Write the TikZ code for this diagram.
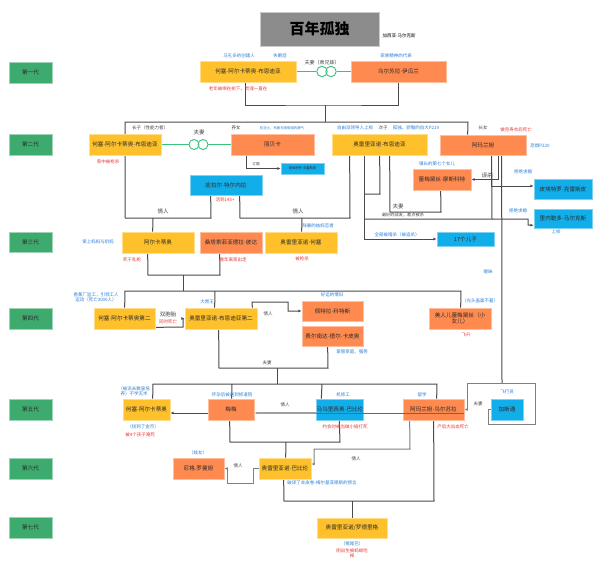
\documentclass[tikz,border=0pt]{standalone}
\usepackage{fontspec}
\setmainfont{Noto Sans CJK SC}
\newfontfamily\latinf{Liberation Sans}
\newcommand\mdot{{\latinf ·}}
\usetikzlibrary{arrows.meta,backgrounds}
\definecolor{cy}{HTML}{FFC12B}
\definecolor{co}{HTML}{FF8A50}
\definecolor{cb}{HTML}{12AEEA}
\definecolor{cg}{HTML}{3DAA6E}
\definecolor{cblue}{HTML}{2B7FD6}
\definecolor{cred}{HTML}{E53935}
\definecolor{cgrey}{HTML}{444444}
\definecolor{cline}{HTML}{4A4A4A}
\definecolor{cgreen}{HTML}{38C47A}
\definecolor{txt}{HTML}{2A2A2A}
\definecolor{ctitle}{HTML}{8C8C8C}
\newcommand\mybox[6]{\node[#1, minimum width={(#4)-(#2)}, minimum height={(#5)-(#3)}] (#6) at ({((#2)+(#4))/2},{((#3)+(#5))/2})}
\begin{document}
\begin{tikzpicture}[x=1pt,y=-1pt,
 box/.style={rectangle, inner sep=0pt, align=center, font=\fontsize{5.6}{6.6}\selectfont, text=txt, line width=0.7pt},
 yb/.style={box, fill=cy, draw=cy!55!white},
 ob/.style={box, fill=co, draw=co!55!white},
 bb/.style={box, fill=cb, draw=cb!55!white},
 gen/.style={box, fill=cg, draw=cg!50!white},
 ttlbox/.style={box, fill=ctitle, draw=ctitle!45!white, font=\fontsize{15}{16}\selectfont\bfseries, text=black},
 ann/.style={inner sep=0.3pt, align=center, font=\fontsize{4.5}{5.3}\selectfont, text=cblue},
 rd/.style={ann, text=cred},
 gl/.style={ann, text=cgrey},
 gl5/.style={gl, font=\fontsize{5.5}{6}\selectfont},
 ln/.style={draw=cline, line width=1pt},
 arr/.style={ln, -{Latex[length=3.2pt,width=2.8pt]}},
 mar/.style={draw=cgreen, line width=1pt},
 ring/.style={circle, draw=cgreen, line width=0.9pt, minimum size=10.5pt, inner sep=0pt}
]
\useasboundingbox (0,0) rectangle (600,576);

% title
\mybox{ttlbox}{260}{12}{379}{46}{ttl} {百年孤独};
\node[gl, anchor=west, text=black] (auth) at (382,36) {加西亚\mdot 马尔克斯};

% generation labels
\mybox{gen}{9}{62}{52}{83}{g1} {第一代};
\mybox{gen}{9}{134}{52}{155}{g2} {第二代};
\mybox{gen}{9}{232}{52}{252}{g3} {第三代};
\mybox{gen}{9}{308}{52}{329}{g4} {第四代};
\mybox{gen}{9}{399}{52}{420}{g5} {第五代};
\mybox{gen}{9}{458}{52}{479}{g6} {第六代};
\mybox{gen}{9}{517}{52}{538}{g7} {第七代};

% people
\mybox{yb}{200}{61}{296}{82}{jab1} {何塞\mdot 阿尔卡蒂奥\mdot 布恩迪亚};
\mybox{ob}{351}{61}{446}{82}{urs} {乌尔苏拉\mdot 伊瓜兰};
\mybox{yb}{89}{134}{161}{155}{ja2} {何塞\mdot 阿尔卡蒂奥\mdot 布恩迪亚};
\mybox{ob}{231}{134}{314}{155}{reb} {丽贝卡};
\mybox{yb}{332}{134}{427}{155}{aur} {奥雷里亚诺\mdot 布恩迪亚};
\mybox{ob}{440}{135}{526}{155}{ama} {阿玛兰妲};
\mybox{bb}{190}{175}{262}{195}{pil} {庇拉尔\mdot 特尔内拉};
\mybox{bb, font=\fontsize{3.3}{4}\selectfont}{281}{163}{324}{174}{pcs} {皮埃特罗\mdot 克雷斯皮};
\mybox{ob}{413}{169}{471}{190}{rem} {蕾梅黛丝\mdot 摩斯科特};
\mybox{bb}{534}{179}{592}{199}{pie} {皮埃特罗\mdot 克雷斯皮};
\mybox{bb}{534}{209}{592}{228}{ger} {里内勒多\mdot 马尔克斯};
\mybox{bb}{437}{232}{494}{246}{s17} {17个儿子};
\mybox{yb}{122}{232}{194}{253}{arc} {阿尔卡蒂奥};
\mybox{ob}{200}{232}{262}{253}{ssp} {桑塔索菲亚德拉\mdot 彼达};
\mybox{yb}{265}{232}{337}{253}{auj} {奥雷里亚诺\mdot 何塞};
\mybox{yb}{94}{308}{155}{329}{jas} {何塞\mdot 阿尔卡蒂奥第二};
\mybox{yb}{185}{308}{257}{329}{aus} {奥雷里亚诺\mdot 布恩迪亚第二};
\mybox{ob}{302}{301}{363}{321}{pet} {佩特拉\mdot 科特斯};
\mybox{ob}{302}{326}{363}{346}{fer} {费尔南达\mdot 德尔\mdot 卡皮奥};
\mybox{ob}{429}{308}{491}{329}{rmb} {美人儿蕾梅黛丝（小\\女儿）};
\mybox{yb}{123}{399}{170}{420}{ja5} {何塞\mdot 阿尔卡蒂奥};
\mybox{ob}{208}{399}{254}{420}{mem} {梅梅};
\mybox{bb}{317}{399}{363}{420}{mau} {马乌里西奥\mdot 巴比伦};
\mybox{ob}{403}{399}{464}{420}{amu} {阿玛兰妲\mdot 乌尔苏拉};
\mybox{bb}{491}{399}{523}{420}{gas} {加斯通};
\mybox{ob}{173}{458}{224}{479}{nig} {尼格.罗曼妲};
\mybox{yb}{259}{458}{311}{479}{aub} {奥雷里亚诺\mdot 巴比伦};
\mybox{yb}{317}{518}{387}{538}{aro} {奥雷里亚诺/罗德里格};

% rings
\node[ring] (r1a) at (322,71.5) {};
\node[ring] (r1b) at (331,71.5) {};
\node[ring, minimum size=10pt] (r2a) at (194,144.5) {};
\node[ring, minimum size=10pt] (r2b) at (203,144.5) {};

% annotations
\node[ann] (a1) at (239,56) {马孔多的创建人};
\node[ann] (a2) at (280,56) {失眠症};
\node[ann] (a3) at (396,56) {家族精神的代表};
\node[rd] (a4) at (238,89) {老年被绑在树下，灵魂一直在};
\node[gl, font=\fontsize{5}{6}\selectfont] (a5) at (322,63) {夫妻（表兄妹）};
\node[gl] (a6) at (150,128) {长子（性能力者）};
\node[gl5] (a7) at (199,132) {夫妻};
\node[gl] (a8) at (236,128) {养女};
\node[ann, font=\fontsize{3.4}{4}\selectfont] (a9) at (282,128) {吃泥土，有着无限倔强的脾气};
\node[rd] (a10) at (108,162) {家中被枪杀};
\node[gl, font=\fontsize{3.6}{4}\selectfont] (a11) at (256,164) {订婚};
\node[rd] (a12) at (225,200) {活到145+};
\node[gl5] (a13) at (163,211) {情人};
\node[gl5] (a14) at (298,211) {情人};
\node[ann] (a15) at (318,226) {残暴的姑妈恋者};
\node[ann] (a16) at (98,242) {爱上妈妈与奶妈};
\node[rd] (a17) at (132,260) {死于乱枪};
\node[rd] (a18) at (233,260) {晚年离家出走};
\node[rd] (a19) at (302,259) {被枪杀};
\node[ann] (a20) at (355,128) {自由派领导人上校};
\node[gl] (a21) at (383,128) {次子};
\node[ann] (a22) at (416,128) {孤独、骄傲的自大P219};
\node[gl] (a23) at (483,128) {长女};
\node[rd] (a24) at (516,130) {做完寿衣后死亡};
\node[ann] (a25) at (540,146) {恐惧P220};
\node[ann] (a26) at (437,164) {镇长的第七个女儿};
\node[gl5] (a27) at (487,175) {误杀};
\node[ann] (a28) at (523,172) {拒绝求婚};
\node[ann] (a29) at (518,211) {拒绝求婚};
\node[gl5] (a30) at (398,206) {夫妻};
\node[gl, font=\fontsize{4.2}{5}\selectfont] (a31) at (403,215) {最好的战友，差点被杀};
\node[ann] (a32) at (397,235) {全部被暗杀（被追杀）};
\node[ann] (a33) at (556,232) {上校};
\node[ann] (a34) at (488,272) {暧昧};
\node[ann] (a35) at (96,297.5) {香蕉厂监工，引领工人\\运动（死亡3000人）};
\node[ann] (a36) at (207,302) {大胃王};
\node[gl5] (a37) at (168,314) {双胞胎};
\node[rd] (a38) at (168,321.5) {同时死亡};
\node[gl] (a39) at (268,314) {情人};
\node[ann] (a40) at (332,295) {好运的情妇};
\node[ann] (a41) at (352,352) {掌管家庭、强势};
\node[ann] (a42) at (480,301) {（光头盖面不着）};
\node[rd] (a43) at (466,335) {飞升};
\node[gl] (a44) at (267,363) {夫妻};
\node[ann] (a45) at (134,391.5) {（被派去教皇培\\养）不学无术};
\node[ann] (a46) at (143,427) {（找到了金币）};
\node[rd] (a47) at (140,435) {被4个孩子淹死};
\node[ann] (a48) at (232,395) {怀孕后被送到修道院};
\node[gl] (a49) at (285,405) {情人};
\node[ann] (a50) at (343,395) {机修工};
\node[rd] (a51) at (345,427) {约会时被当做小偷打死};
\node[ann] (a52) at (422,395) {留学};
\node[rd] (a53) at (453,427) {产后大出血死亡};
\node[ann] (a54) at (507,392) {飞行员};
\node[gl] (a55) at (478,404) {夫妻};
\node[ann] (a56) at (198,453) {（妓女）};
\node[gl] (a57) at (238,466) {情人};
\node[gl] (a58) at (356,459) {情人};
\node[ann] (a59) at (322,483) {破译了羊皮卷-梅尔基亚德斯的预言};
\node[ann] (a60) at (352,544) {（猪尾巴）};
\node[rd] (a61) at (352,553) {刚出生被蚂蚁吃\\掉};

% front line across gen 5 boxes
\draw[draw=gray!80!black, line width=0.8pt] ([yshift=-3.5]amu.east) -- ([yshift=-3.5]mau.west);

\begin{scope}[on background layer]
\fill[white] (0,0) rectangle (600,576);
% marriages (green)
\draw[mar] (jab1.east) -- (r1a.west);
\draw[mar] (r1b.east) -- (urs.west);
\draw[mar] (ja2.east) -- (r2a.west);
\draw[mar] (r2b.east) -- (reb.west);
% generation 1 -> 2
\draw[ln] ([xshift=46]jab1.south west) |- (325,105) coordinate (j1) -| (urs.south);
\draw[ln] (j1) -- (325,122);
\draw[ln] (125,218) -- (125,122) -- (468,122) -- ([xshift=28]ama.north west);
\draw[ln] (125,218) -- (211,218) -- ([xshift=21]pil.south west);
\draw[ln] (153,218) -- ([xshift=31]arc.north west);
\draw[ln] ([xshift=50]pil.south west) -- (240,218) -- (350,218) -- ([xshift=18]aur.south west);
\draw[ln] (302,218) -- ([xshift=37]auj.north west);
\draw[arr] ([xshift=16]reb.south west) |- (pcs.west);
% Aureliano
\draw[ln] ([xshift=58]aur.south west) -- (390,212) -- (441,212) -- ([xshift=28]rem.south west);
\draw[ln] ([xshift=48]aur.south west) -- (380,194) -- (365,194);
\draw[arr] ([xshift=33]aur.south west) |- (s17.west);
\draw[arr] (365,219) -- (528,219) -- (528,225) -- ([yshift=3]ger.south west);
% Amaranta
\draw[ln] ([xshift=52]ama.south west) -- (492,219);
\draw[arr] ([xshift=52]ama.south west) |- ([yshift=3]pie.west);
\draw[arr] ([xshift=59]ama.south west) |- (rem.east);
\draw[ln] ([xshift=62]ama.south west) -- (502,383);
% generation 3 -> 4
\draw[ln] ([xshift=26]arc.south west) -- (148,275) -- (220,275) -- ([xshift=20]ssp.south west);
\draw[ln] (183,275) -- (183,291);
\draw[ln] ([xshift=31]jas.north west) -- (125,291) -- (461,291) -- ([xshift=32]rmb.north west);
\draw[ln] (215,291) -- ([xshift=30]aus.north west);
\draw[arr] ([yshift=2]jas.south east) -- (183,327) -- (183,318.5) -- (aus.west);
\draw[arr] ([xshift=-5]aus.north east) -- (252,302) -- (288,302) -- (288,311) -- (pet.west);
% generation 4 -> 5
\draw[ln] ([xshift=34]aus.south west) -- (219,368) -- (328,368) -- ([xshift=26]fer.south west);
\draw[ln] (277,368) -- (277,384);
\draw[ln] ([xshift=30]ja5.north west) -- (153,384) -- (437,384) -- ([xshift=34]amu.north west);
\draw[ln] (232,384) -- ([xshift=24]mem.north west);
\draw[ln] (322,384) -- ([xshift=5]mau.north west);
\draw[arr, draw=gray!75, line width=1.6pt] ([yshift=-3.5]mau.west) -- ([yshift=-3.5]mem.east);
\draw[arr] ([yshift=-3.5]mem.west) -- ([yshift=-3.5]ja5.east);
\draw[arr, draw=gray] (gas.west) -- (488,409.5) -- (488,424) -- (535,424) -- (535,383) -- (467,383) -- (467,409.5) -- (amu.east);
% generation 5 -> 6
\draw[ln] ([xshift=22]mem.south west) -- (230,442) -- (340,442) -- ([xshift=23]mau.south west);
\draw[ln] (286,442) -- ([xshift=27]aub.north west);
\draw[arr, draw=gray] (aub.west) -- (253,468.5) -- (253,483) -- (227,483) -- (227,468.5) -- (nig.east);
\draw[arr, draw=gray] ([xshift=7]amu.south west) -- (410,449) -- (314,449) -- (314,464) -- ([yshift=4.5]aub.east);
% generation 6 -> 7
\draw[ln] ([xshift=31]amu.south west) -- (434,501) -- (284,501) -- ([xshift=25]aub.south west);
\draw[ln] (352,501) -- (aro.north);
\end{scope}
\end{tikzpicture}
\end{document}
